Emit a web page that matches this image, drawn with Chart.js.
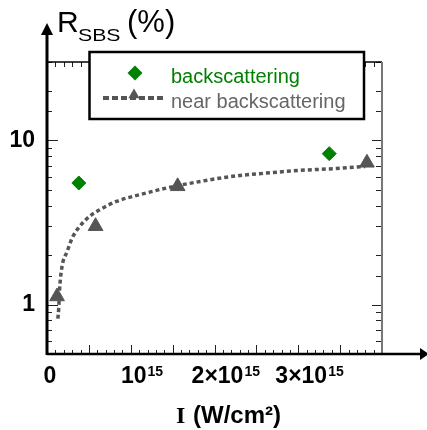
<!DOCTYPE html>
<html>
<head>
<meta charset="utf-8">
<script src="https://cdn.jsdelivr.net/npm/chart.js@4.4.1/dist/chart.umd.min.js"></script>
<style>
  html, body { margin: 0; padding: 0; background: #fff; }
  #wrap { width: 427px; height: 430px; position: relative; }
</style>
</head>
<body>
<div id="wrap"><canvas id="chart" width="427" height="430"></canvas></div>
<script>
// ==================== DATA ====================
// intensity in units of 1e15 W/cm², reflectivity R_SBS in %
const backX = [0.38, 3.37];
const backY = [5.5, 8.3];
const nearX = [0.12, 0.58, 1.56, 3.82];
const nearY = [1.12, 3.0, 5.25, 7.3];
// dotted fit curve
const fitX = [0.13, 0.14, 0.15, 0.18, 0.24, 0.30, 0.39, 0.51, 0.63, 0.83, 1.11, 1.43, 1.83, 2.22, 2.62, 3.02, 3.41, 3.80];
const fitY = [0.82, 0.95, 1.23, 1.71, 2.10, 2.54, 2.99, 3.45, 3.78, 4.25, 4.67, 5.13, 5.62, 6.04, 6.32, 6.56, 6.72, 6.94];

const seriesNames = ['backscattering', 'near backscattering'];
const xTickValues = [0, 1, 2, 3];
const xTickMain = ['0', '10', '2×10', '3×10'];
const xTickExp = ['', '15', '15', '15'];
const yTickLabels = [1, 10];

const SANS = 'Arial, "Liberation Sans", Helvetica, sans-serif';
const SERIF = '"Times New Roman", "Liberation Serif", serif';
const GREEN = '#008000';
const GREY = '#555555';

const toPoints = (xs, ys) => xs.map((v, i) => ({ x: v, y: ys[i] }));

// ==================== AXES / FRAME / LEGEND ====================
const framePlugin = {
    id: 'frame',
    beforeDatasetsDraw(chart) {
        const { ctx, chartArea: a, scales: { x, y } } = chart;
        ctx.save();

        // tick marks, all pointing inward
        ctx.strokeStyle = '#222';
        ctx.lineWidth = 1;
        ctx.beginPath();
        for (let i = 0; i <= 40; i++) {
            const px = Math.round(x.getPixelForValue(i / 10)) + 0.5;
            const major = i % 5 === 0;
            ctx.moveTo(px, a.bottom); ctx.lineTo(px, a.bottom - (major ? 9 : 4));
            ctx.moveTo(px, a.top); ctx.lineTo(px, a.top + (major ? 7 : 5));
        }
        y.ticks.forEach(t => {
            const py = Math.round(y.getPixelForValue(t.value)) + 0.5;
            const major = yTickLabels.includes(t.value);
            ctx.moveTo(a.left, py); ctx.lineTo(a.left + (major ? 11 : 5), py);
            ctx.moveTo(a.right, py); ctx.lineTo(a.right - (major ? 10 : 6), py);
        });
        ctx.stroke();

        // top and right frame
        ctx.lineWidth = 1.5;
        ctx.strokeStyle = '#000';
        ctx.beginPath();
        ctx.moveTo(a.left, a.top); ctx.lineTo(a.right, a.top);
        ctx.stroke();
        ctx.strokeStyle = '#777';
        ctx.lineWidth = 2;
        ctx.beginPath();
        ctx.moveTo(a.right, a.top); ctx.lineTo(a.right, a.bottom);
        ctx.stroke();

        // left and bottom axes with arrows
        ctx.strokeStyle = '#000';
        ctx.fillStyle = '#000';
        ctx.lineWidth = 3;
        ctx.beginPath();
        ctx.moveTo(a.left, a.bottom + 1); ctx.lineTo(a.left, 30);
        ctx.stroke();
        ctx.beginPath();
        ctx.moveTo(a.left - 6, 35); ctx.lineTo(a.left + 6, 35); ctx.lineTo(a.left, 23);
        ctx.closePath(); ctx.fill();

        ctx.lineWidth = 2.5;
        ctx.beginPath();
        ctx.moveTo(a.left, a.bottom); ctx.lineTo(421, a.bottom);
        ctx.stroke();
        ctx.beginPath();
        ctx.moveTo(420, a.bottom - 6); ctx.lineTo(420, a.bottom + 6); ctx.lineTo(429, a.bottom);
        ctx.closePath(); ctx.fill();
        ctx.restore();
    },
    afterDraw(chart) {
        const { ctx, scales: { x } } = chart;
        ctx.save();
        ctx.fillStyle = '#000';
        ctx.textBaseline = 'alphabetic';
        ctx.textAlign = 'left';

        // x tick labels with superscript exponent
        xTickValues.forEach((v, i) => {
            const px = x.getPixelForValue(v) + 3;
            ctx.font = 'bold 23px ' + SANS;
            const w = ctx.measureText(xTickMain[i]).width;
            ctx.fillText(xTickMain[i], px - w / 2, 383);
            if (xTickExp[i]) {
                ctx.font = 'bold 14px ' + SANS;
                ctx.fillText(xTickExp[i], px + w / 2 + 1, 376);
            }
        });

        // x axis title
        ctx.font = 'bold 24px ' + SERIF;
        ctx.fillText('I', 176, 423);
        ctx.font = 'bold 24px ' + SANS;
        ctx.fillText('(W/cm²)', 193, 423);

        // y axis title
        ctx.font = '30px ' + SANS;
        ctx.fillText('R', 57, 32);
        ctx.save();
        ctx.translate(78, 40.5);
        ctx.scale(1.25, 1);
        ctx.font = '17px ' + SANS;
        ctx.fillText('SBS', 0, 0);
        ctx.restore();
        ctx.font = '31px ' + SANS;
        ctx.fillText('(%)', 127, 32);

        // legend box
        ctx.fillStyle = '#fff';
        ctx.fillRect(89.5, 52, 274.5, 67);
        ctx.strokeStyle = '#000';
        ctx.lineWidth = 2.5;
        ctx.strokeRect(89.5, 52, 274.5, 67);

        // backscattering entry
        ctx.fillStyle = GREEN;
        ctx.strokeStyle = GREEN;
        ctx.lineWidth = 1;
        Chart.helpers.drawPoint(ctx, { pointStyle: 'rectRot', radius: 7.5, rotation: 0 }, 135, 73);

        // near backscattering entry
        ctx.strokeStyle = GREY;
        ctx.lineWidth = 4;
        ctx.setLineDash([6, 3]);
        ctx.beginPath();
        ctx.moveTo(103, 98); ctx.lineTo(163, 98);
        ctx.stroke();
        ctx.setLineDash([]);
        ctx.fillStyle = GREY;
        ctx.lineWidth = 1;
        Chart.helpers.drawPoint(ctx, { pointStyle: 'triangle', radius: 6.5, rotation: 0 }, 134, 95);

        ctx.font = '20px ' + SANS;
        ctx.fillStyle = GREEN;
        ctx.fillText(seriesNames[0], 171, 83);
        ctx.fillStyle = '#666';
        ctx.fillText(seriesNames[1], 171, 108);
        ctx.restore();
    }
};

new Chart(document.getElementById('chart'), {
    type: 'scatter',
    data: {
        datasets: [
            {
                type: 'line',
                label: 'fit',
                data: toPoints(fitX, fitY),
                borderColor: GREY,
                borderWidth: 3.5,
                borderDash: [4, 3],
                pointRadius: 0,
                cubicInterpolationMode: 'monotone',
                fill: false,
                clip: false,
                order: 3
            },
            {
                label: seriesNames[1],
                data: toPoints(nearX, nearY),
                pointStyle: 'triangle',
                pointRadius: 8.5,
                backgroundColor: GREY,
                borderColor: GREY,
                borderWidth: 1,
                clip: false,
                order: 2
            },
            {
                label: seriesNames[0],
                data: toPoints(backX, backY),
                pointStyle: 'rectRot',
                pointRadius: 7,
                backgroundColor: GREEN,
                borderColor: GREEN,
                borderWidth: 1,
                clip: false,
                order: 1
            }
        ]
    },
    options: {
        responsive: false,
        animation: false,
        devicePixelRatio: 1,
        layout: { padding: { left: 0, top: 62, right: 45, bottom: 76 } },
        plugins: {
            legend: { display: false },
            tooltip: { enabled: false }
        },
        scales: {
            x: {
                type: 'linear',
                display: false,
                min: 0,
                max: 4
            },
            y: {
                type: 'logarithmic',
                min: 0.5,
                max: 30,
                afterFit: scale => { scale.width = 47; },
                grid: { display: false, drawTicks: false },
                border: { display: false },
                ticks: {
                    autoSkip: false,
                    padding: 12,
                    color: '#000',
                    font: { family: SANS, size: 23, weight: 'bold' },
                    callback: value => yTickLabels.includes(value) ? String(value) : ''
                }
            }
        }
    },
    plugins: [framePlugin]
});
</script>
</body>
</html>
